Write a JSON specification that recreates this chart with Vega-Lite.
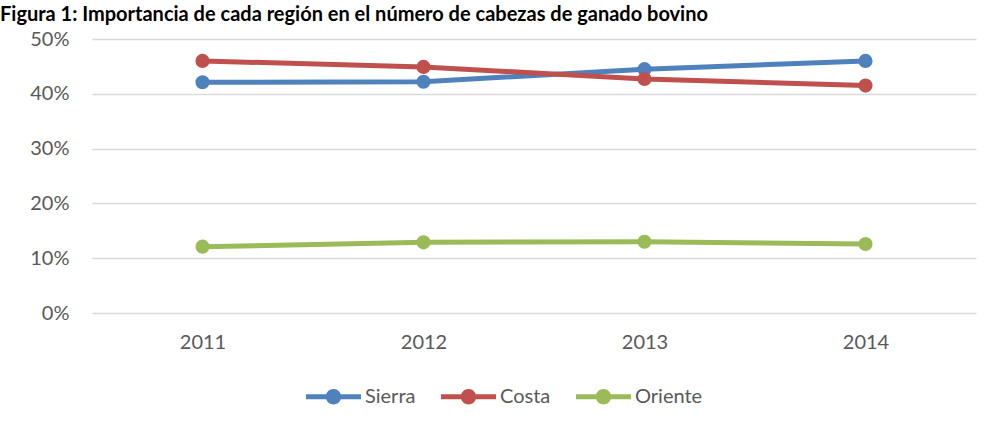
{
  "$schema": "https://vega.github.io/schema/vega-lite/v6.json",
  "width": 884,
  "height": 274,
  "autosize": "none",
  "padding": {"left": 92, "top": 39, "right": 17, "bottom": 115},
  "background": "white",
  "title": {
    "text": "Figura 1: Importancia de cada región en el número de cabezas de ganado bovino",
    "anchor": "start",
    "frame": "group",
    "dx": -92,
    "offset": 22,
    "dy": 34,
    "baseline": "alphabetic",
    "font": "Lato",
    "fontSize": 20,
    "fontWeight": "bold",
    "color": "#000000"
  },
  "data": {
    "values": [
      {"year": "2011", "region": "Sierra", "share": 0.421},
      {"year": "2012", "region": "Sierra", "share": 0.422},
      {"year": "2013", "region": "Sierra", "share": 0.445},
      {"year": "2014", "region": "Sierra", "share": 0.460},
      {"year": "2011", "region": "Costa", "share": 0.460},
      {"year": "2012", "region": "Costa", "share": 0.449},
      {"year": "2013", "region": "Costa", "share": 0.427},
      {"year": "2014", "region": "Costa", "share": 0.415},
      {"year": "2011", "region": "Oriente", "share": 0.121},
      {"year": "2012", "region": "Oriente", "share": 0.129},
      {"year": "2013", "region": "Oriente", "share": 0.130},
      {"year": "2014", "region": "Oriente", "share": 0.126}
    ]
  },
  "mark": {
    "type": "line",
    "strokeWidth": 5,
    "strokeCap": "round",
    "strokeJoin": "round",
    "point": {"filled": true, "size": 200, "opacity": 1}
  },
  "encoding": {
    "x": {
      "field": "year",
      "type": "ordinal",
      "scale": {"type": "point", "padding": 0.5},
      "axis": {
        "title": null,
        "labelAngle": 0,
        "domain": false,
        "ticks": false,
        "grid": false,
        "labelPadding": 19,
        "labelFont": "Lato",
        "labelFontSize": 20,
        "labelColor": "#595959"
      }
    },
    "y": {
      "field": "share",
      "type": "quantitative",
      "scale": {"domain": [0, 0.5], "nice": false},
      "axis": {
        "title": null,
        "format": ".0%",
        "values": [0, 0.1, 0.2, 0.3, 0.4, 0.5],
        "domain": false,
        "ticks": false,
        "labelPadding": 23,
        "labelFont": "Lato",
        "labelFontSize": 20,
        "labelColor": "#595959",
        "gridColor": "#d9d9d9",
        "gridWidth": 1.4
      }
    },
    "color": {
      "field": "region",
      "type": "nominal",
      "sort": ["Sierra", "Costa", "Oriente"],
      "scale": {"domain": ["Sierra", "Costa", "Oriente"], "range": ["#4F81BD", "#C0504D", "#9BBB59"]},
      "legend": {
        "title": null,
        "orient": "none",
        "direction": "horizontal",
        "legendX": 214,
        "legendY": 330,
        "symbolType": "M-1,-0.09 L1,-0.09 L1,0.09 L-1,0.09 Z M0,-0.28 A0.28,0.28 0 1,1 0,0.28 A0.28,0.28 0 1,1 0,-0.28 Z",
        "symbolSize": 3025,
        "symbolStrokeWidth": 0,
        "labelOffset": 4,
        "columnPadding": 25,
        "labelFont": "Lato",
        "labelFontSize": 20,
        "labelColor": "#595959",
        "encode": {
          "symbols": {
            "update": {
              "fill": {"scale": "color", "field": "value"},
              "fillOpacity": {"value": 1},
              "strokeWidth": {"value": 0}
            }
          }
        }
      }
    }
  },
  "config": {
    "view": {"stroke": null}
  }
}
